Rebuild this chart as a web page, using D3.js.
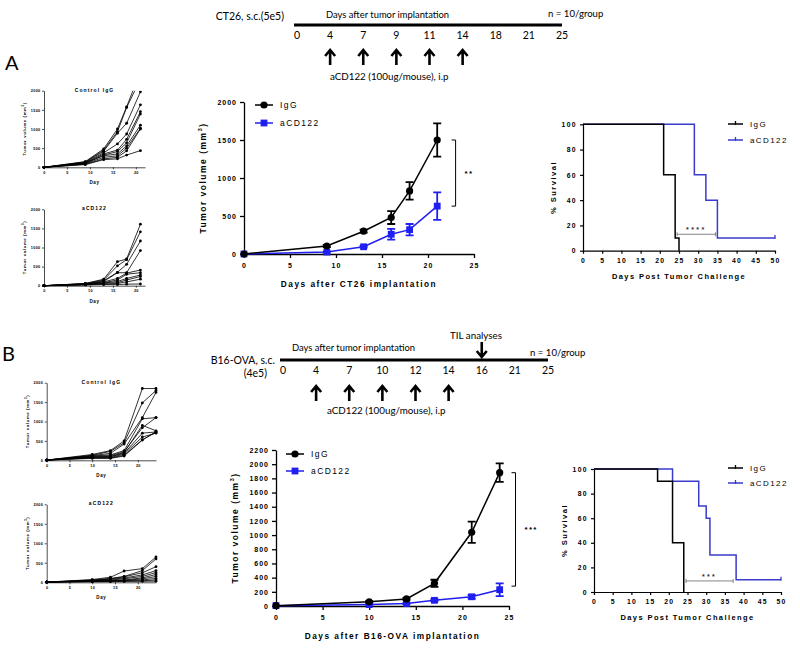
<!DOCTYPE html>
<html><head><meta charset="utf-8">
<script src="https://cdn.jsdelivr.net/npm/d3@7"></script>
<style>
body{margin:0;background:#fff;}
svg{display:block;}
</style></head><body>
<svg id="chart" width="800" height="649"></svg>
<script>
// ---------------- DATA ----------------
// Timelines
const tlALabels = [0, 4, 7, 9, 11, 14, 18, 21, 25];
const tlADoses = [4, 7, 9, 11, 14];
const tlBLabels = [0, 4, 7, 10, 12, 14, 16, 21, 25];
const tlBDoses = [4, 7, 10, 12, 14];
const tlBTil = 16;

// Small individual-mouse plots, panel A (CT26)
const aSmallDays = [0, 9, 13, 16, 18, 21];
const aSmallCtrl = [
  [0, 150, 480, 1000, 1580, 2500],
  [0, 140, 450, 930, 1560, 2300],
  [0, 130, 420, 890, 1150, 1970],
  [0, 120, 380, 610, 870, 1630],
  [0, 110, 350, 450, 730, 1450],
  [0, 100, 320, 410, 640, 1390],
  [0, 110, 300, 350, 560, 1100],
  [0, 90, 260, 300, 500, 1020],
  [0, 80, 220, 260, 430, 1000],
  [0, 70, 200, 220, 320, 435]
];
const aSmallTrt = [
  [0, 60, 170, 630, 700, 1610],
  [0, 55, 150, 520, 680, 1410],
  [0, 50, 130, 350, 560, 1170],
  [0, 45, 110, 340, 340, 920],
  [0, 40, 100, 190, 330, 410],
  [0, 35, 80, 150, 300, 340],
  [0, 30, 70, 110, 190, 280],
  [0, 30, 60, 80, 150, 240],
  [0, 25, 40, 60, 100, 170],
  [0, 20, 30, 30, 40, 45]
];
// Small individual-mouse plots, panel B (B16-OVA)
const bSmallDays = [0, 10, 14, 17, 21, 24];
const bSmallCtrl = [
  [5, 150, 250, 500, 1850, 1850],
  [5, 130, 230, 450, 1480, 1800],
  [5, 120, 180, 420, 1100, 1750],
  [5, 110, 140, 250, 1070, 1100],
  [5, 100, 120, 220, 840, 1100],
  [5, 90, 100, 200, 900, 760],
  [5, 80, 90, 180, 700, 730],
  [5, 70, 70, 160, 600, 700],
  [5, 60, 60, 130, 530, 720],
  [5, 50, 50, 110, 520, 740]
];
const bSmallTrt = [
  [5, 70, 130, 290, 350, 650],
  [5, 60, 100, 150, 300, 600],
  [5, 50, 90, 140, 245, 400],
  [5, 45, 80, 110, 190, 300],
  [5, 40, 60, 90, 150, 250],
  [5, 35, 50, 60, 113, 200],
  [5, 30, 40, 50, 87, 150],
  [5, 25, 30, 40, 60, 100],
  [5, 20, 25, 30, 40, 60],
  [5, 15, 20, 25, 26, 30]
];

// Mean tumour growth, panel A
const aDays = [0, 9, 13, 16, 18, 21];
const aIgGMean = [0, 105, 300, 480, 830, 1500];
const aIgGSem = [0, 15, 20, 85, 115, 220];
const aTrtMean = [0, 25, 95, 260, 320, 630];
const aTrtSem = [0, 5, 12, 70, 75, 180];
// Mean tumour growth, panel B
const bDays = [0, 10, 14, 17, 21, 24];
const bIgGMean = [5, 60, 100, 320, 1040, 1880];
const bIgGSem = [0, 10, 15, 50, 150, 130];
const bTrtMean = [5, 20, 35, 80, 130, 230];
const bTrtSem = [0, 5, 8, 15, 25, 90];

// Survival
const survAIgGDays = [0, 21, 24, 25], survAIgG = [100, 60, 10, 0];
const survATrtDays = [0, 29, 32, 35, 50], survATrt = [100, 60, 40, 10, 10];
const survBIgGDays = [0, 17, 21, 24], survBIgG = [100, 90, 40, 0];
const survBTrtDays = [0, 21, 28, 30, 31, 38, 50], survBTrt = [100, 90, 70, 60, 30, 10, 10];

// Ticks
const mainXTicks = [0, 5, 10, 15, 20, 25];
const mainAYTicks = [0, 500, 1000, 1500, 2000];
const mainBYTicks = [0, 200, 400, 600, 800, 1000, 1200, 1400, 1600, 1800, 2000, 2200];
const smallXTicks = [0, 5, 10, 15, 20];
const smallYTicks = [0, 500, 1000, 1500, 2000];
const survXTicks = [0, 5, 10, 15, 20, 25, 30, 35, 40, 45, 50];
const survYTicks = [0, 20, 40, 60, 80, 100];

const seriesNames = ["IgG", "aCD122"];

// ---------------- DRAWING ----------------
const svg = d3.select("#chart");
const F = "'Liberation Sans', Arial, Helvetica, sans-serif";
const TF = "Lato, 'Open Sans', sans-serif";
const BLUE = "#1f1ff0";
const SBLUE = "#3a3acc";
const fmt = d3.format("d");

function addText(parent, x, y, str, o) {
  o = o || {};
  const t = parent.append("text").attr("x", x).attr("y", y)
    .attr("font-family", o.family || F).attr("font-size", o.size || 8)
    .attr("font-weight", o.weight || "normal").attr("fill", o.fill || "#000")
    .attr("text-anchor", o.anchor || "start");
  if (o.ls) t.attr("letter-spacing", o.ls);
  if (o.rotate) t.attr("transform", `rotate(-90,${x},${y})`);
  t.text(str);
  return t;
}

function yTitleVol(parent, x, y, size, ls) {
  const t = parent.append("text").attr("x", x).attr("y", y)
    .attr("font-family", F).attr("font-size", size).attr("font-weight", "bold")
    .attr("letter-spacing", ls).attr("text-anchor", "middle")
    .attr("transform", `rotate(-90,${x},${y})`);
  t.append("tspan").text("Tumor volume (mm");
  t.append("tspan").attr("dy", -size * 0.45).attr("font-size", size * 0.65).text("3");
  t.append("tspan").attr("dy", size * 0.45).text(")");
}

function styleAxis(sel, fs, ls, sw) {
  sel.select(".domain").attr("stroke", "#000").attr("stroke-width", sw);
  sel.selectAll(".tick line").attr("stroke", "#000").attr("stroke-width", sw);
  sel.selectAll(".tick text").attr("font-family", F).attr("font-size", fs)
    .attr("font-weight", "bold").attr("letter-spacing", ls).attr("fill", "#000");
}

function upArrow(g, x, top, bottom) {
  g.append("path").attr("d", `M${x},${bottom}V${top + 1}M${x - 5},${top + 6}L${x},${top}L${x + 5},${top + 6}`)
    .attr("fill", "none").attr("stroke", "#000").attr("stroke-width", 2.6);
}
function downArrow(g, x, top, bottom) {
  g.append("path").attr("d", `M${x},${top}V${bottom - 1}M${x - 5},${bottom - 6}L${x},${bottom}L${x + 5},${bottom - 6}`)
    .attr("fill", "none").attr("stroke", "#000").attr("stroke-width", 2.6);
}

function timeline(c) {
  const g = svg.append("g");
  const sx = d3.scalePoint().domain(c.labels).range(c.range);
  g.append("line").attr("x1", c.range[0] - 3).attr("x2", c.range[1]).attr("y1", c.y).attr("y2", c.y)
    .attr("stroke", "#000").attr("stroke-width", 3);
  c.labels.forEach(d => addText(g, sx(d), c.y + 14, d, {family: TF, size: 10.5, anchor: "middle"}));
  c.doses.forEach(d => upArrow(g, sx(d), c.arrowTop, c.arrowBottom));
  return {g, sx};
}

function smallChart(c) {
  const g = svg.append("g");
  const x = d3.scaleLinear(c.xDomain, c.xRange);
  const y = d3.scaleLinear([0, 2000], c.yRange);
  const id = "clip" + Math.round(c.yRange[0]);
  svg.append("clipPath").attr("id", id).append("rect")
    .attr("x", c.xRange[0] - 3).attr("y", c.yRange[1]).attr("width", c.xRange[1] - c.xRange[0] + 20)
    .attr("height", c.yRange[0] - c.yRange[1] + 3);
  const gx = g.append("g").attr("transform", `translate(0,${c.yRange[0]})`)
    .call(d3.axisBottom(x).tickValues(smallXTicks).tickFormat(fmt).tickSize(2).tickSizeOuter(0).tickPadding(2));
  styleAxis(gx, 3.8, 0.3, 0.7);
  const gy = g.append("g").attr("transform", `translate(${c.xRange[0]},0)`)
    .call(d3.axisLeft(y).tickValues(smallYTicks).tickFormat(fmt).tickSize(2).tickSizeOuter(0).tickPadding(1.5));
  styleAxis(gy, 3.8, 0.3, 0.7);
  const pg = g.append("g").attr("clip-path", `url(#${id})`);
  const line = d3.line().x((d, i) => x(c.days[i])).y(d => y(d));
  c.mice.forEach(m => {
    pg.append("path").attr("d", line(m)).attr("fill", "none").attr("stroke", "#000").attr("stroke-width", 0.8);
    m.forEach((v, i) => pg.append("circle").attr("cx", x(c.days[i])).attr("cy", y(v)).attr("r", 1.4).attr("fill", "#000"));
  });
  const cx = (c.xRange[0] + c.xRange[1]) / 2;
  addText(g, cx, c.yRange[1] + 1, c.title, {size: 5, weight: "bold", ls: 1.1, anchor: "middle"});
  addText(g, cx, c.yRange[0] + 17, "Day", {size: 4.5, weight: "bold", ls: 0.6, anchor: "middle"});
  yTitleVol(g, c.xRange[0] - 18, (c.yRange[0] + c.yRange[1]) / 2, 4.3, 0.6);
}

function marker(g, shape, cx, cy, color) {
  if (shape === "circle") g.append("circle").attr("cx", cx).attr("cy", cy).attr("r", 3.6).attr("fill", color);
  else g.append("rect").attr("x", cx - 3.4).attr("y", cy - 3.4).attr("width", 6.8).attr("height", 6.8).attr("fill", color);
}

function mainChart(c) {
  const g = svg.append("g");
  const x = d3.scaleLinear([0, 25], c.xRange);
  const y = d3.scaleLinear(c.yDomain, c.yRange);
  const gx = g.append("g").attr("transform", `translate(0,${c.yRange[0]})`)
    .call(d3.axisBottom(x).tickValues(mainXTicks).tickFormat(fmt).tickSize(4).tickSizeOuter(0).tickPadding(5));
  styleAxis(gx, 7, 1, 1.3);
  const gy = g.append("g").attr("transform", `translate(${c.xRange[0]},0)`)
    .call(d3.axisLeft(y).tickValues(c.yTicks).tickFormat(fmt).tickSize(4).tickSizeOuter(0).tickPadding(3));
  styleAxis(gy, 7, 1, 1.3);
  const line = d3.line().x(d => x(d.d)).y(d => y(d.v));
  c.series.slice().reverse().forEach(s => {
    const pts = c.days.map((d, i) => ({d, v: s.mean[i], e: s.sem[i]}));
    g.append("path").attr("d", line(pts)).attr("fill", "none").attr("stroke", s.color).attr("stroke-width", 1.5);
    pts.filter(p => p.e > 0).forEach(p => {
      const px = x(p.d);
      g.append("path").attr("d", `M${px},${y(p.v - p.e)}V${y(p.v + p.e)}M${px - 4},${y(p.v - p.e)}H${px + 4}M${px - 4},${y(p.v + p.e)}H${px + 4}`)
        .attr("stroke", s.color).attr("stroke-width", 1.8).attr("fill", "none");
    });
    pts.forEach(p => marker(g, s.shape, x(p.d), y(p.v), s.color));
  });
  c.series.forEach((s, i) => {
    const ly = c.legend[1] + i * c.legendGap;
    g.append("line").attr("x1", c.legend[0]).attr("x2", c.legend[0] + 18).attr("y1", ly).attr("y2", ly)
      .attr("stroke", s.color).attr("stroke-width", 1.5);
    marker(g, s.shape, c.legend[0] + 9, ly, s.color);
    addText(g, c.legend[0] + 25, ly + 3, s.name, {size: 8.5, ls: 1.4});
  });
  const bx = x(c.sig.day), y1 = y(c.sig.from), y2 = y(c.sig.to);
  g.append("path").attr("d", `M${bx - 4},${y1}H${bx}V${y2}H${bx - 4}`).attr("fill", "none")
    .attr("stroke", "#000").attr("stroke-width", 1);
  addText(g, bx + 9, (y1 + y2) / 2 + 3, c.sig.label, {size: 8, weight: "bold", ls: 1.3});
  yTitleVol(g, c.xRange[0] - 38, (c.yRange[0] + c.yRange[1]) / 2, 8.5, 1.5);
  addText(g, (c.xRange[0] + c.xRange[1]) / 2, c.yRange[0] + 33, c.xTitle,
    {size: 8.3, weight: "bold", ls: 1.5, anchor: "middle"});
}

function survChart(c) {
  const g = svg.append("g");
  const x = d3.scaleLinear([0, 50], c.xRange);
  const y = d3.scaleLinear([0, 100], c.yRange);
  const gx = g.append("g").attr("transform", `translate(0,${c.yRange[0]})`)
    .call(d3.axisBottom(x).tickValues(survXTicks).tickFormat(fmt).tickSize(3).tickSizeOuter(0).tickPadding(4));
  styleAxis(gx, 6.8, 1.2, 1.2);
  const gy = g.append("g").attr("transform", `translate(${c.xRange[0]},0)`)
    .call(d3.axisLeft(y).tickValues(survYTicks).tickFormat(fmt).tickSize(3).tickSizeOuter(0).tickPadding(3));
  styleAxis(gy, 6.8, 1.4, 1.2);
  const line = d3.line().x(d => x(d[0])).y(d => y(d[1])).curve(d3.curveStepAfter);
  c.series.slice().reverse().forEach(s => {
    const pts = s.days.map((d, i) => [d, s.vals[i]]);
    g.append("path").attr("d", line(pts)).attr("fill", "none").attr("stroke", s.color).attr("stroke-width", 1.5);
    const last = pts[pts.length - 1];
    if (last[1] > 0) g.append("line").attr("x1", x(last[0])).attr("x2", x(last[0]))
      .attr("y1", y(last[1]) - 3).attr("y2", y(last[1]) + 1).attr("stroke", s.color).attr("stroke-width", 1.3);
  });
  c.series.forEach((s, i) => {
    const ly = c.legend[1] + i * c.legendGap;
    g.append("line").attr("x1", c.legend[0]).attr("x2", c.legend[0] + 15).attr("y1", ly).attr("y2", ly)
      .attr("stroke", s.color).attr("stroke-width", 1.5);
    g.append("line").attr("x1", c.legend[0] + 7.5).attr("x2", c.legend[0] + 7.5).attr("y1", ly - 3).attr("y2", ly + 1)
      .attr("stroke", s.color).attr("stroke-width", 1.3);
    addText(g, c.legend[0] + 22, ly + 3, s.name, {size: 8, ls: 1.4});
  });
  const x1 = x(c.sig.from), x2 = x(c.sig.to), sy = y(c.sig.at);
  g.append("path").attr("d", `M${x1},${sy - 2}V${sy + 2}M${x1},${sy}H${x2}M${x2},${sy - 2}V${sy + 2}`)
    .attr("fill", "none").attr("stroke", "#777").attr("stroke-width", 0.9);
  addText(g, (x1 + x2) / 2, sy - 2, c.sig.label, {size: 7, weight: "bold", ls: 2.4, anchor: "middle", fill: "#333"});
  addText(g, c.xRange[0] - 27, (c.yRange[0] + c.yRange[1]) / 2, "% Survival",
    {size: 7.5, weight: "bold", ls: 1.5, anchor: "middle", rotate: true});
  addText(g, (c.xRange[0] + c.xRange[1]) / 2, c.yRange[0] + 28, "Days Post Tumor Challenge",
    {size: 7.5, weight: "bold", ls: 1.4, anchor: "middle"});
}

// ---------- Panel A ----------
addText(svg, 5, 70, "A", {family: TF, size: 20});
const tA = timeline({labels: tlALabels, doses: tlADoses, range: [297, 562], y: 25, arrowTop: 50, arrowBottom: 65});
addText(svg, 284, 20, "CT26, s.c.(5e5)", {family: TF, size: 10.5, anchor: "end"});
addText(svg, 326, 18, "Days after tumor implantation", {family: TF, size: 9.4});
addText(svg, 548, 17, "n = 10/group", {family: TF, size: 9.6});
addText(svg, 330, 80, "aCD122 (100ug/mouse), i.p", {family: TF, size: 9.8});

smallChart({title: "Control IgG", days: aSmallDays, mice: aSmallCtrl, xDomain: [0, 22], xRange: [44, 145], yRange: [167.3, 90.7]});
smallChart({title: "aCD122", days: aSmallDays, mice: aSmallTrt, xDomain: [0, 22], xRange: [44, 145], yRange: [285.7, 209.3]});

mainChart({
  days: aDays, xRange: [244, 474], yDomain: [0, 2000], yRange: [254, 102], yTicks: mainAYTicks,
  series: [
    {name: seriesNames[0], mean: aIgGMean, sem: aIgGSem, color: "#000", shape: "circle"},
    {name: seriesNames[1], mean: aTrtMean, sem: aTrtSem, color: BLUE, shape: "square"}
  ],
  legend: [255, 105], legendGap: 18,
  sig: {day: 23, from: aIgGMean[5], to: aTrtMean[5], label: "**"},
  xTitle: "Days after CT26 implantation"
});

survChart({
  xRange: [583, 775], yRange: [250.7, 124.3],
  series: [
    {name: seriesNames[0], days: survAIgGDays, vals: survAIgG, color: "#000"},
    {name: seriesNames[1], days: survATrtDays, vals: survATrt, color: SBLUE}
  ],
  legend: [728, 124], legendGap: 16,
  sig: {from: 24.5, to: 34.5, at: 13, label: "****"}
});

// ---------- Panel B ----------
addText(svg, 2, 361, "B", {family: TF, size: 20});
const tB = timeline({labels: tlBLabels, doses: tlBDoses, range: [283, 548], y: 360, arrowTop: 386, arrowBottom: 401});
downArrow(tB.g, tB.sx(tlBTil), 342, 357);
addText(svg, 476, 339, "TIL analyses", {family: TF, size: 9.8, anchor: "middle"});
addText(svg, 275, 363.5, "B16-OVA, s.c.", {family: TF, size: 10.5, anchor: "end"});
addText(svg, 267, 377, "(4e5)", {family: TF, size: 10.5, anchor: "end"});
addText(svg, 292, 351, "Days after tumor implantation", {family: TF, size: 9.4});
addText(svg, 530, 356, "n = 10/group", {family: TF, size: 9.6});
addText(svg, 327, 414, "aCD122 (100ug/mouse), i.p", {family: TF, size: 9.8});

smallChart({title: "Control IgG", days: bSmallDays, mice: bSmallCtrl, xDomain: [0, 24], xRange: [46.7, 156], yRange: [460.3, 382.7]});
smallChart({title: "aCD122", days: bSmallDays, mice: bSmallTrt, xDomain: [0, 24], xRange: [46.7, 156], yRange: [582.3, 504.3]});

mainChart({
  days: bDays, xRange: [276, 509], yDomain: [0, 2200], yRange: [606, 450], yTicks: mainBYTicks,
  series: [
    {name: seriesNames[0], mean: bIgGMean, sem: bIgGSem, color: "#000", shape: "circle"},
    {name: seriesNames[1], mean: bTrtMean, sem: bTrtSem, color: BLUE, shape: "square"}
  ],
  legend: [286, 454], legendGap: 17,
  sig: {day: 25.7, from: bIgGMean[5], to: bTrtMean[5] + 50, label: "***"},
  xTitle: "Days after B16-OVA implantation"
});

survChart({
  xRange: [594, 781], yRange: [592, 469],
  series: [
    {name: seriesNames[0], days: survBIgGDays, vals: survBIgG, color: "#000"},
    {name: seriesNames[1], days: survBTrtDays, vals: survBTrt, color: SBLUE}
  ],
  legend: [728, 468], legendGap: 15,
  sig: {from: 24.6, to: 37.2, at: 9, label: "***"}
});
</script>
</body></html>
